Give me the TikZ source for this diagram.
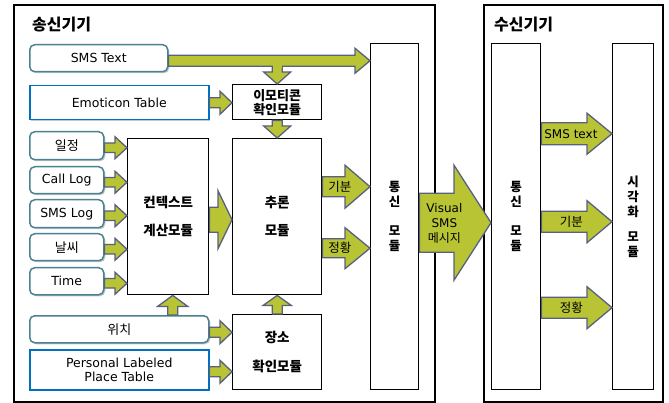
\documentclass[tikz,border=0pt]{standalone}
\usepackage{fontspec}
\setmainfont{Noto Sans CJK KR}
\newfontfamily\lat{DejaVu Sans}
\usetikzlibrary{calc,shadows}
\definecolor{afill}{RGB}{184,196,52}
\definecolor{aline}{RGB}{88,96,128}
\definecolor{inteal}{RGB}{75,130,145}
\definecolor{inblue}{RGB}{0,112,192}
\tikzset{
  sz/.style 2 args={minimum width=#1pt, minimum height=#2pt},
  blockarr/.style={draw=aline, fill=afill, line width=1.3pt, line join=miter},
  shad/.style={drop shadow={shadow xshift=1.5pt, shadow yshift=-1.5pt, opacity=0.22, fill=black}},
  inbox/.style={draw=inteal, line width=1.5pt, rounded corners=5pt, fill=white, inner sep=0pt, anchor=north west, shad, align=center},
  tblbox/.style={draw=inblue, line width=1.5pt, fill=white, inner sep=0pt, anchor=north west, shad, align=center},
  modbox/.style={draw=black, line width=1.4pt, fill=white, inner sep=0pt, anchor=north west, align=center},
  outer/.style={draw=black, line width=2pt, fill=white, inner sep=0pt, anchor=north west},
  latf/.style={font=\lat\fontsize{12.5}{14}\selectfont},
  krf/.style={font=\fontsize{13}{14}\selectfont},
  modf/.style={font=\bfseries\fontsize{13.5}{#1}\selectfont},
  colf/.style={font=\bfseries\fontsize{12.5}{15}\selectfont},
  titf/.style={font=\bfseries\fontsize{16}{18}\selectfont, anchor=west, inner sep=0pt},
  lblf/.style={font=\fontsize{12.5}{14}\selectfont, inner sep=0pt},
}
% block arrow: #1 start, #2 tip, #3 shaft half width, #4 head half width, #5 head length
\newcommand{\barrow}[5]{%
  \draw[blockarr] let \p1=(#1), \p2=(#2), \p3=($(\p2)!#5pt!(\p1)$) in
    ($(\p1)!#3pt!90:(\p2)$) -- ($(\p3)!#3pt!90:(\p2)$) -- ($(\p3)!#4pt!90:(\p2)$) --
    (\p2) -- ($(\p3)!#4pt!-90:(\p2)$) -- ($(\p3)!#3pt!-90:(\p2)$) --
    ($(\p1)!#3pt!-90:(\p2)$) -- cycle;}
\begin{document}
\begin{tikzpicture}[x=1pt,y=-1pt]
\useasboundingbox (0,0) rectangle (669,403);
% outer boxes
\node[outer, sz={421}{397}] (sbox) at (13,4) {};
\node[outer, sz={179}{397}] (rbox) at (483,4) {};
\node[titf] (stitle) at (32,25) {송신기기};
\node[titf] (rtitle) at (494,25) {수신기기};
% inputs
\node[inbox, sz={138}{27}, latf] (sms) at (29,44) {SMS Text};
\node[tblbox, sz={179}{34}, latf] (emot) at (29,85) {Emoticon Table};
\node[inbox, sz={74}{28}, krf] (il) at (29,131) {일정};
\node[inbox, sz={74}{27}, latf] (call) at (29,166) {Call Log};
\node[inbox, sz={74}{28}, latf] (slog) at (29,199) {SMS Log};
\node[inbox, sz={74}{27}, krf] (nal) at (29,233) {날씨};
\node[inbox, sz={74}{27}, latf] (time) at (29,267) {Time};
\node[inbox, sz={179}{27}, krf] (loc) at (29,315) {위치};
\node[tblbox, sz={179}{40}, latf] (plt) at (29,349) {Personal Labeled\\Place Table};
% modules
\node[modbox, sz={81}{156}, modf=28] (ctx) at (127,138) {컨텍스트\\계산모듈};
\node[modbox, sz={89}{35}, font=\bfseries\fontsize{13}{14}\selectfont] (emo) at (232,84) {이모티콘\\확인모듈};
\node[modbox, sz={89}{156}, modf=28] (inf) at (232,138) {추론\\모듈};
\node[modbox, sz={89}{75}, modf=29] (plc) at (232,314) {장소\\확인모듈};
\node[modbox, sz={48}{346}, colf] (scomm) at (370,43) {통\\신\\[14pt]모\\듈};
\node[modbox, sz={49}{346}, colf] (rcomm) at (491,43) {통\\신\\[14pt]모\\듈};
\node[modbox, sz={41}{346}, colf] (vis) at (612,43) {시\\각\\화\\[10pt]모\\듈};
% SMS text arrows
\coordinate (smsout) at ([yshift=-2.5pt]sms.east);
\barrow{emo.north |- smsout}{emo.north}{5}{13.5}{12}
\barrow{smsout}{scomm.west |- smsout}{5.5}{12.5}{15}
\fill[afill] ($(emo.north |- smsout)+(-4.3pt,0pt)$) rectangle ($(emo.north |- smsout)+(4.3pt,-7pt)$);
% emoticon
\barrow{emot.east}{emo.west |- emot.east}{5}{11.5}{12}
\barrow{emo.south}{inf.north}{5}{13.5}{12}
% context inputs
\foreach \q in {il,call,slog,nal,time}{
  \coordinate (o-\q) at ([yshift=-2pt]\q.east);
}
\barrow{o-il}{ctx.west |- o-il}{4.8}{11}{12}
\barrow{o-call}{ctx.west |- o-call}{4.8}{11}{12}
\barrow{o-slog}{ctx.west |- o-slog}{4.8}{11}{12}
\barrow{o-nal}{ctx.west |- o-nal}{4.8}{11}{12}
\barrow{o-time}{ctx.west |- o-time}{4.8}{11}{12}
% context -> inference
\coordinate (ctxout) at ([yshift=-3pt]ctx.east);
\barrow{ctxout}{inf.west |- ctxout}{12.5}{29}{14}
% location
\coordinate (lup) at ([xshift=4.5pt]ctx.south);
\barrow{lup |- loc.north}{lup}{5}{15}{11}
\coordinate (locout) at ([yshift=-3pt]loc.east);
\barrow{locout}{plc.west |- locout}{5}{11.5}{12}
\coordinate (pltout) at ([yshift=-2pt]plt.east);
\barrow{pltout}{plc.west |- pltout}{5}{11.5}{12}
\barrow{plc.north}{inf.south}{5}{14}{10}
% inference -> comm
\coordinate (kib) at ([yshift=30pt]inf.east);
\barrow{kib}{scomm.west |- kib}{10}{21.5}{25}
\node[lblf] (kibl) at ([xshift=17.5pt]kib) {기분};
\coordinate (jeo) at ([yshift=-31.5pt]inf.east);
\barrow{jeo}{scomm.west |- jeo}{9.5}{20.5}{25}
\node[lblf] (jeol) at ([xshift=17.5pt]jeo) {정황};
% visual SMS
\coordinate (vso) at ([yshift=-6pt]scomm.east);
\barrow{vso}{rcomm.west |- vso}{29.5}{57.5}{37}
\node[inner sep=0pt, align=center, font=\fontsize{12}{15}\selectfont] (vsl) at ([xshift=25pt,yshift=-1pt]vso) {{\lat Visual}\\{\lat SMS}\\메시지};
% receiver arrows
\coordinate (r1) at ([yshift=83pt]rcomm.east);
\barrow{r1}{vis.west |- r1}{11}{20.5}{25}
\node[inner sep=0pt, font=\lat\fontsize{12}{14}\selectfont] (r1l) at ([xshift=29.5pt]r1) {SMS text};
\coordinate (r2) at ([yshift=-5pt]rcomm.east);
\barrow{r2}{vis.west |- r2}{10.5}{21}{25}
\node[lblf] (r2l) at ([xshift=30pt]r2) {기분};
\coordinate (r3) at ([yshift=-91pt]rcomm.east);
\barrow{r3}{vis.west |- r3}{10.5}{21}{25}
\node[lblf] (r3l) at ([xshift=30pt]r3) {정황};
\end{tikzpicture}
\end{document}
